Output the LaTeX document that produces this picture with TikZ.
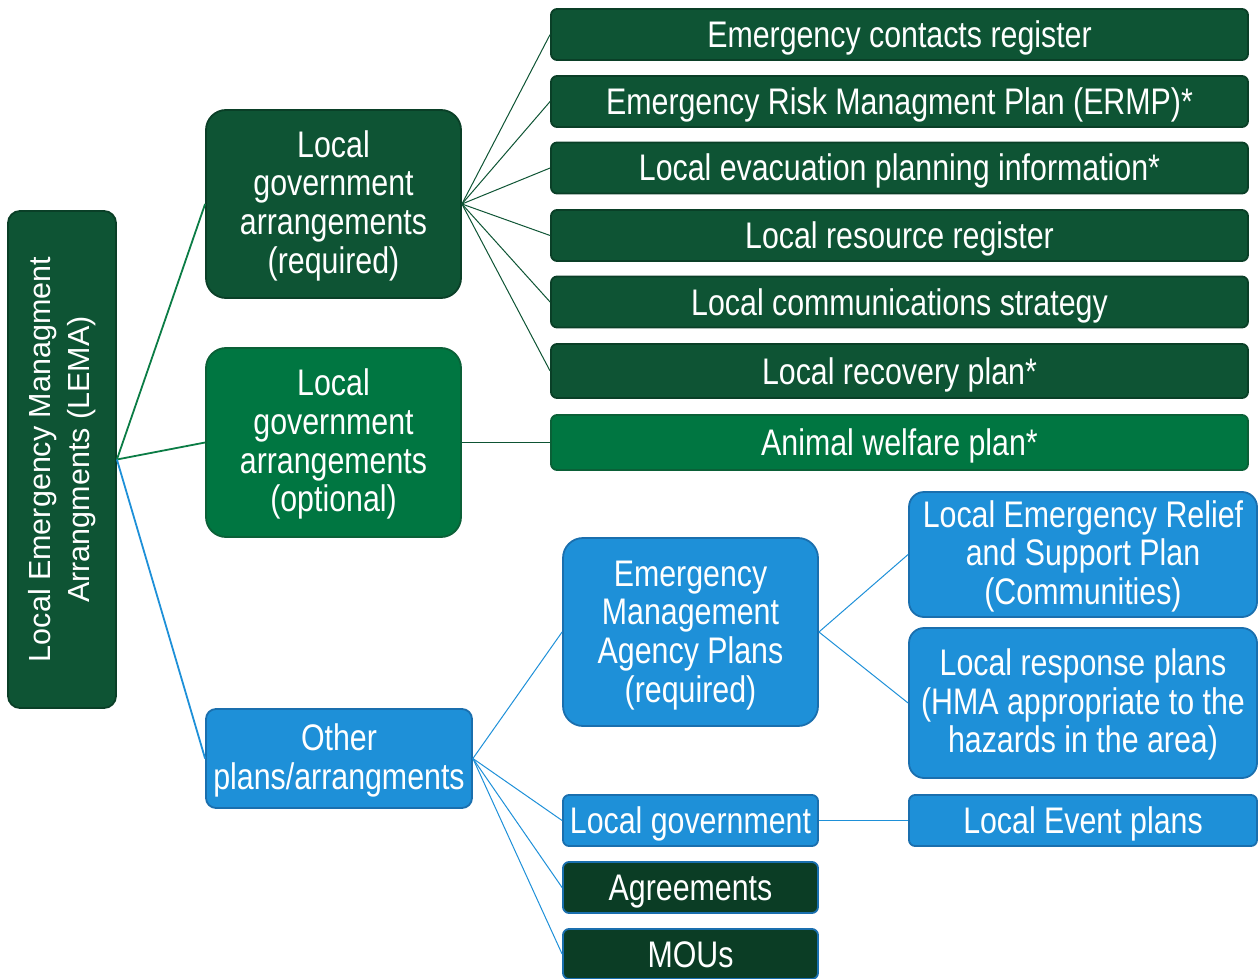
\documentclass[tikz,border=0pt]{standalone}
\usepackage{fontspec}
\setmainfont{Liberation Sans}
\newfontfamily\narrowfont[FakeStretch=0.82]{Liberation Sans}
\definecolor{dkgreen}{HTML}{0E5434}
\definecolor{dkgreenb}{HTML}{0A3F27}
\definecolor{mdgreen}{HTML}{007641}
\definecolor{mdgreenb}{HTML}{0A6037}
\definecolor{lgreenline}{HTML}{0B7C45}
\definecolor{blu}{HTML}{1E90D8}
\definecolor{blub}{HTML}{1A6FAE}
\definecolor{agreen}{HTML}{0B3D25}
\newcommand\mltext[2][-3.5pt]{\raisebox{#1}[\height][\depth]{\begin{tabular}{@{}c@{}}#2\end{tabular}}}
\tikzset{
  box/.style={draw, line width=1.8pt, text=white, inner sep=0pt, align=center,
    font={\narrowfont\fontsize{37}{38.7}\selectfont},
    execute at begin node={\rule{0pt}{35pt}},
    execute at end node={\rule[-9pt]{0pt}{9pt}}},
  dg/.style={box, fill=dkgreen, draw=dkgreenb},
  mg/.style={box, fill=mdgreen, draw=mdgreenb},
  bl/.style={box, fill=blu, draw=blub},
  ag/.style={box, fill=agreen, draw=blub},
  big/.style={rounded corners=20pt},
  bar/.style={rounded corners=6pt},
  conn/.style={line width=1pt},
}
\begin{document}
\begin{tikzpicture}[x=1pt,y=-1pt]
\useasboundingbox (0,0) rectangle (1259,979);
% level 1
\node[dg, rounded corners=12pt, minimum width=108pt, minimum height=497pt] (lema) at (62,459.5) {};
\node[text=white, rotate=90, align=center, inner sep=0pt,
  font={\fontsize{30.5}{39}\selectfont}] (lematext) at (62.5,459.5)
  {Local Emergency Managment\\Arrangments (LEMA)};
% level 2
\node[dg, big, minimum width=255pt, minimum height=188pt] (lgr) at (333.5,204)
  {\mltext{Local\\government\\arrangements\\(required)}};
\node[mg, big, minimum width=255pt, minimum height=189pt] (lgo) at (333.5,442.5)
  {\mltext{Local\\government\\arrangements\\(optional)}};
\node[bl, rounded corners=10pt, minimum width=266pt, minimum height=99pt] (oth) at (339,758.5)
  {\mltext{Other\\plans/arrangments}};
% level 3 green bars
\node[dg, bar, minimum width=697pt, minimum height=51pt] (b1) at (899.5,34.5) {Emergency contacts register};
\node[dg, bar, minimum width=697pt, minimum height=51pt] (b2) at (899.5,101.5) {Emergency Risk Managment Plan (ERMP)*};
\node[dg, bar, minimum width=697pt, minimum height=51pt] (b3) at (899.5,168) {Local evacuation planning information*};
\node[dg, bar, minimum width=697pt, minimum height=51pt] (b4) at (899.5,235.5) {Local resource register};
\node[dg, bar, minimum width=697pt, minimum height=51pt] (b5) at (899.5,302) {Local communications strategy};
\node[dg, bar, minimum width=697pt, minimum height=54pt] (b6) at (899.5,371) {Local recovery plan*};
\node[mg, bar, minimum width=697pt, minimum height=55pt] (b7) at (899.5,442.5) {Animal welfare plan*};
% level 3 blue
\node[bl, big, minimum width=255pt, minimum height=188pt] (ema) at (690.5,632)
  {\mltext[-4.5pt]{Emergency\\Management\\Agency Plans\\(required)}};
\node[bl, bar, minimum width=255pt, minimum height=51pt] (lgv) at (690.5,820.5) {Local government};
\node[ag, bar, minimum width=255pt, minimum height=51pt] (agr) at (690.5,887.5) {Agreements};
\node[ag, bar, minimum width=255pt, minimum height=50pt] (mou) at (690.5,954) {MOUs};
% level 4
\node[bl, rounded corners=15pt, minimum width=348pt, minimum height=125pt] (ler) at (1083,554.5)
  {\mltext{Local Emergency Relief\\and Support Plan\\(Communities)}};
\node[bl, rounded corners=15pt, minimum width=348pt, minimum height=150pt] (lrp) at (1083,703)
  {\mltext{Local response plans\\(HMA appropriate to the\\hazards in the area)}};
\node[bl, bar, minimum width=348pt, minimum height=51pt] (lep) at (1083,820.5) {Local Event plans};
% connectors
\draw[line width=1.8pt, lgreenline] (lema.east) -- (lgr.west);
\draw[line width=1.8pt, lgreenline] (lema.east) -- (lgo.west);
\draw[line width=1.8pt, blu] (lema.east) -- (oth.west);
\foreach \b in {b1,b2,b3,b4,b5,b6}
  \draw[conn, dkgreen] (lgr.east) -- (\b.west);
\draw[conn, dkgreen] (lgo.east) -- (b7.west);
\foreach \b in {ema,lgv,agr,mou}
  \draw[conn, blu] (oth.east) -- (\b.west);
\draw[conn, blu] (ema.east) -- (ler.west);
\draw[conn, blu] (ema.east) -- (lrp.west);
\draw[conn, blu] (lgv.east) -- (lep.west);
\end{tikzpicture}
\end{document}
